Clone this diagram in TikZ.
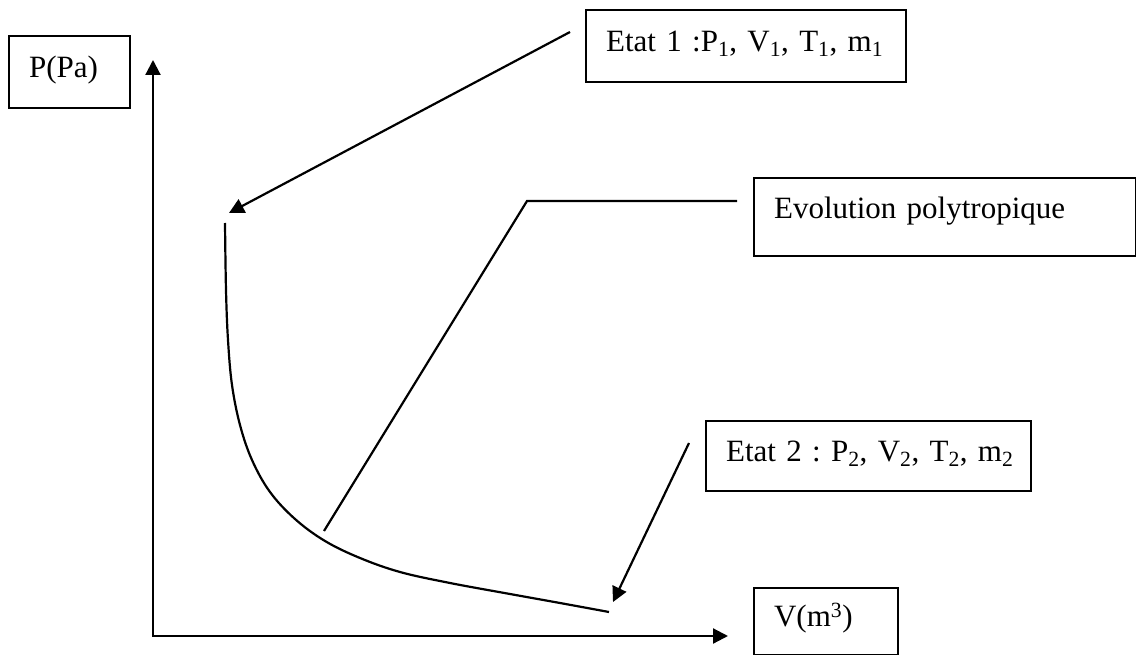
\documentclass[tikz,border=0pt]{standalone}
\usepackage{fontspec}
\setmainfont{Liberation Serif}
\usetikzlibrary{arrows.meta}
\frenchspacing
\begin{document}
\begin{tikzpicture}[x=1pt,y=-1pt,
  every node/.style={font=\fontsize{31pt}{36pt}\selectfont},
  box/.style={draw, line width=2.2pt, anchor=north west, align=left,
    inner xsep=20pt, inner ysep=0pt, text height=22pt},
  ln/.style={line width=2.2pt, line join=miter},
  tip/.style={-{Triangle[length=15pt,width=15pt]}},
  arr/.style={ln, tip}]
\useasboundingbox (0,0) rectangle (1136,655);
% boxes
\node[box, text width=81pt, minimum height=72pt, text depth=12pt] (P) at (8,35) {P(Pa)};
\node[box, text width=280pt, minimum height=72pt, text depth=12pt] (E1) at (585,9)
  {\mbox{Etat 1 :P\textsubscript{1}, V\textsubscript{1}, T\textsubscript{1}, m\textsubscript{1}}};
\node[box, text width=342pt, minimum height=78pt, text depth=20pt] (EV) at (753,177)
  {\mbox{Evolution polytropique}};
\node[box, text width=285pt, minimum height=70pt, text depth=12pt] (E2) at (705,420)
  {\mbox{Etat 2 : P\textsubscript{2}, V\textsubscript{2}, T\textsubscript{2}, m\textsubscript{2}}};
\node[box, text width=104pt, minimum height=67pt, text depth=13pt] (V) at (753,587)
  {V(m\textsuperscript{3})};
% axes
\coordinate (O) at (153,636);
\coordinate (Ytip) at (153,60);
\coordinate (Xtip) at (728,636);
\draw[ln, {Triangle[length=15pt,width=15pt]}-{Triangle[length=15pt,width=15pt]}] (Ytip) -- (O) -- (Xtip);
% polytropic curve
\draw[ln, line join=round] plot[smooth, tension=0.6] coordinates {(225,223) (226,290) (228,340) (232,385) (240,425) (252,460) (270,492) (295,519) (325,541) (360,558) (400,572) (450,583) (510,594) (560,603) (609,612)};
% connectors
\coordinate (A1s) at (570,32);
\coordinate (A1e) at (229,213);
\draw[arr] (A1s) -- (A1e);
\coordinate (L1) at (324,531);
\coordinate (L2) at (527,201);
\coordinate (L3) at (737,201);
\draw[ln] (L1) -- (L2) -- (L3);
\coordinate (A2s) at (689,443);
\coordinate (A2e) at (613,602);
\draw[arr] (A2s) -- (A2e);
\end{tikzpicture}
\end{document}
